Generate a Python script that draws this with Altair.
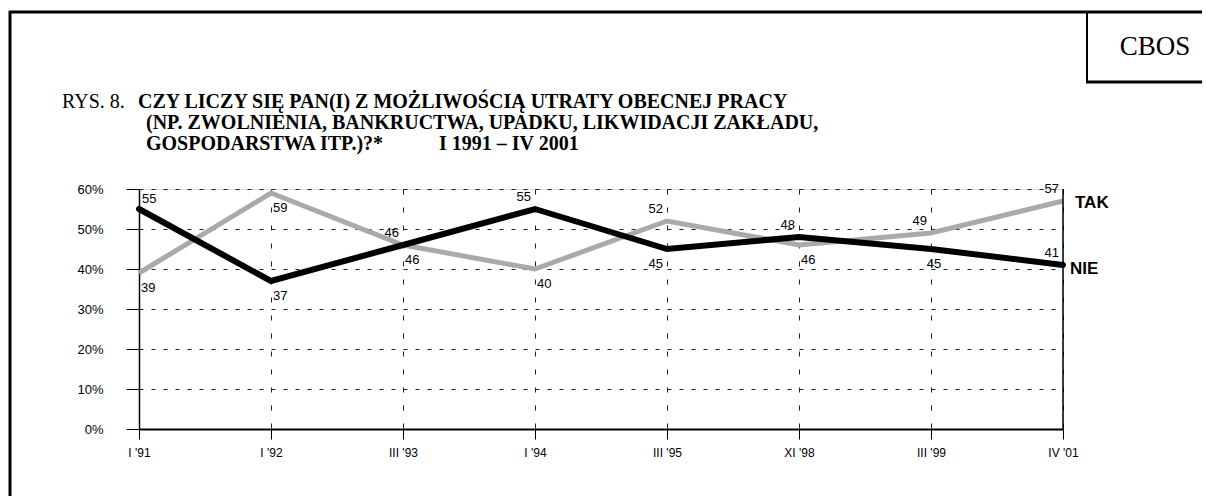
import altair as alt
import pandas as pd

categories = ["I '91", "I '92", "III '93", "I '94", "III '95", "XI '98", "III '99", "IV '01"]
nie = [55, 37, 46, 55, 45, 48, 45, 41]
tak = [39, 59, 46, 40, 52, 46, 49, 57]
y_ticks = [0, 10, 20, 30, 40, 50, 60]

# where each value label sits relative to its point
nie_side = ["ar", "br", "al", "al", "bl", "al", "bc", "al"]
tak_side = ["br", "br", "br", "br", "al", "br", "al", "al"]

rows = []
for i, c in enumerate(categories):
    rows.append({"cat": c, "val": nie[i], "series": "NIE", "side": nie_side[i]})
    rows.append({"cat": c, "val": tak[i], "series": "TAK", "side": tak_side[i]})
df = pd.DataFrame(rows)

W, H = 924, 240
FONT = "Liberation Sans"
SERIF = "Liberation Serif"

xenc = alt.X("cat:N", sort=categories, scale=alt.Scale(type="point", padding=0),
             axis=alt.Axis(title=None, labelAngle=0, tickSize=10, labelPadding=8,
                           grid=True, gridDash=[5, 13], gridColor="#222", gridWidth=1,
                           domainColor="black", domainWidth=2, tickColor="black",
                           labelFont=FONT, labelFontSize=12, labelColor="black"))
yenc = alt.Y("val:Q", scale=alt.Scale(domain=[0, 60], nice=False, zero=True),
             axis=alt.Axis(title=None, values=y_ticks, labelExpr="datum.value + '%'",
                           tickSize=13, labelPadding=23, grid=True, gridDash=[4, 8],
                           gridColor="#222", gridWidth=1, domainColor="black",
                           domainWidth=1.5, tickColor="black", labelFont=FONT,
                           labelFontSize=13, labelColor="black", labelOverlap=False))

base = alt.Chart(df)

grey_line = base.transform_filter(alt.datum.series == "TAK").mark_line(
    color="#aaaaaa", strokeWidth=5).encode(x=xenc, y=yenc)
black_line = base.transform_filter(alt.datum.series == "NIE").mark_line(
    color="black", strokeWidth=6, strokeCap="round").encode(x=xenc, y=yenc)

placements = {
    "ar": dict(align="left", dx=3, dy=-10),
    "al": dict(align="right", dx=-4, dy=-12),
    "br": dict(align="left", dx=2, dy=15),
    "bl": dict(align="right", dx=-4, dy=15),
    "bc": dict(align="center", dx=3, dy=15),
}
label_layers = []
for key, opts in placements.items():
    label_layers.append(
        base.transform_filter(alt.datum.side == key).mark_text(
            font=FONT, fontSize=13, color="black", baseline="middle", **opts
        ).encode(x=xenc, y=yenc, text="val:Q")
    )

ends = pd.DataFrame({"cat": [categories[-1], categories[-1]],
                     "val": [tak[-1], nie[-1]],
                     "name": ["TAK", "NIE"]})
end_tak = alt.Chart(ends).transform_filter(alt.datum.name == "TAK").mark_text(
    font=FONT, fontSize=17, fontWeight="bold", align="left", dx=12, dy=2, color="black"
).encode(x=xenc, y=yenc, text="name:N")
end_nie = alt.Chart(ends).transform_filter(alt.datum.name == "NIE").mark_text(
    font=FONT, fontSize=17, fontWeight="bold", align="left", dx=7, dy=4, color="black"
).encode(x=xenc, y=yenc, text="name:N")

one = pd.DataFrame({"a": [0]})
right_border = alt.Chart(one).mark_rule(color="black", strokeWidth=1.5).encode(
    x=alt.value(W), y=alt.value(0), y2=alt.value(H))

# frame (plot origin at page x=139, y=189)
frame_left = alt.Chart(one).mark_rule(color="black", strokeWidth=3).encode(
    x=alt.value(-129), y=alt.value(-178), y2=alt.value(320))
frame_top = alt.Chart(one).mark_rule(color="black", strokeWidth=3).encode(
    x=alt.value(-130), x2=alt.value(1075), y=alt.value(-177))
cbos_v = alt.Chart(one).mark_rule(color="black", strokeWidth=2).encode(
    x=alt.value(948), y=alt.value(-177), y2=alt.value(-107))
cbos_h = alt.Chart(one).mark_rule(color="black", strokeWidth=3).encode(
    x=alt.value(947), x2=alt.value(1075), y=alt.value(-107))
cbos = alt.Chart(one).mark_text(text="CBOS", font=SERIF, fontSize=27, color="black",
                                align="center", baseline="middle").encode(
    x=alt.value(1016), y=alt.value(-142))

title_lines = [
    ("RYS. 8.", -77, -87, "normal"),
    ("CZY LICZY SIĘ PAN(I) Z MOŻLIWOŚCIĄ UTRATY OBECNEJ PRACY", -1, -87, "bold"),
    ("(NP. ZWOLNIENIA, BANKRUCTWA, UPADKU, LIKWIDACJI ZAKŁADU,", 7, -66, "bold"),
    ("GOSPODARSTWA ITP.)?*", 7, -45, "bold"),
    ("I 1991 – IV 2001", 300, -45, "bold"),
]
title_layers = [
    alt.Chart(one).mark_text(text=t, font=SERIF, fontSize=20, fontWeight=w,
                             color="black", align="left", baseline="middle").encode(
        x=alt.value(x), y=alt.value(y))
    for t, x, y, w in title_lines
]

chart = alt.layer(
    grey_line, black_line, *label_layers, end_tak, end_nie, right_border,
    frame_left, frame_top, cbos_v, cbos_h, cbos, *title_layers
).properties(
    width=W, height=H,
    autosize=alt.AutoSizeParams(type="none"),
    padding={"left": 131, "top": 181, "right": 139, "bottom": 67},
).configure_view(strokeWidth=0).configure(background="white")

chart.save("out.html", embed_options={"renderer": "svg", "actions": False})
